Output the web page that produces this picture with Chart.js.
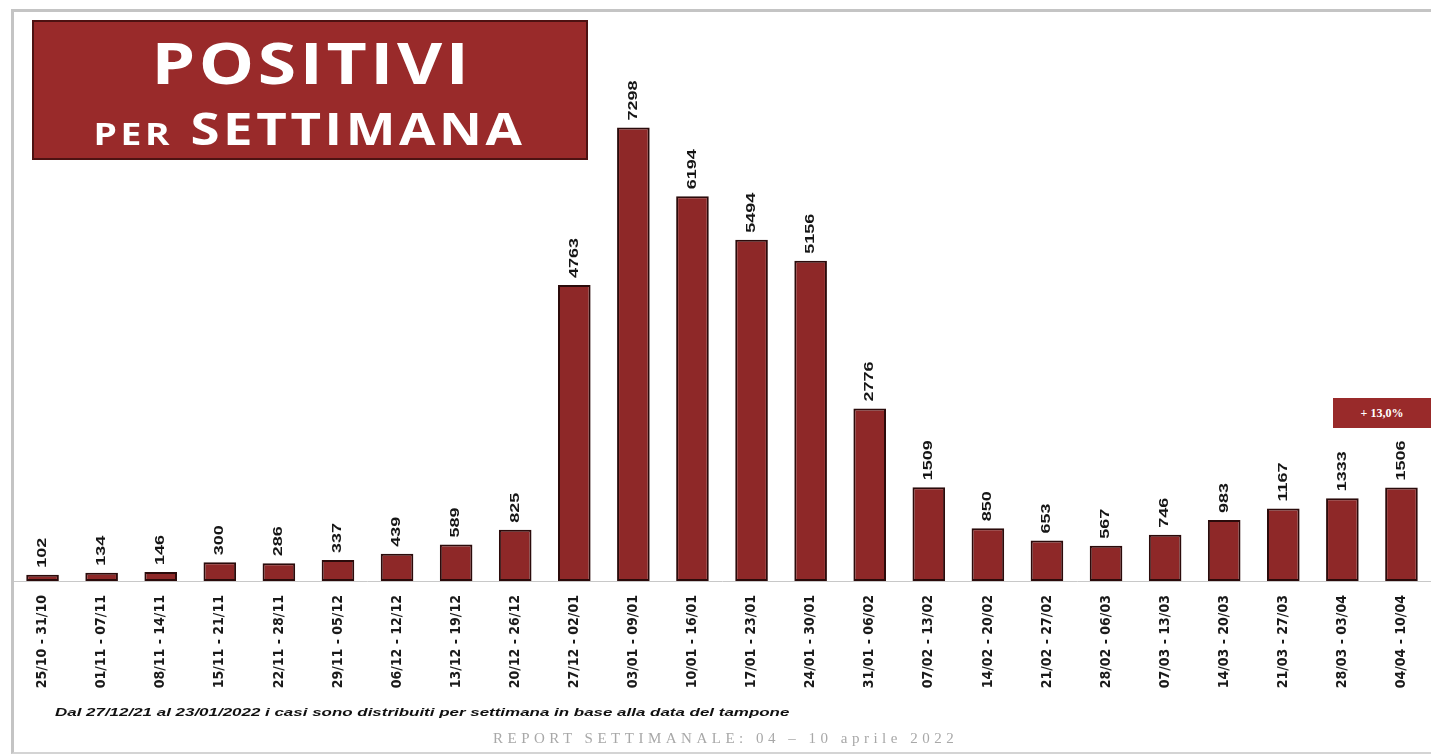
<!DOCTYPE html>
<html>
<head>
<meta charset="utf-8">
<script src="https://cdn.jsdelivr.net/npm/chart.js@4"></script>
<style>
    html, body { margin: 0; padding: 0; background: #fff; overflow: hidden; }
    #wrap { position: absolute; left: 0; top: 0; width: 1431px; height: 756px; overflow: hidden; }
    #frame { position: absolute; left: 11px; top: 9px; width: 1440px; height: 740px; border: 3px solid #c4c4c4; border-bottom: 2px solid #d4d4d4; }
    #titleBox {
        position: absolute; left: 32px; top: 20px; width: 552px; height: 136px;
        background: #992a2a; border: 2px solid #4d1212; color: #fff;
        font-family: 'Open Sans', sans-serif; font-weight: 700; text-align: center;
    }
    #titleBox div { position: absolute; left: 0; right: 0; transform: scaleX(1.2); transform-origin: 278px 0; white-space: nowrap; }
    #titleBox .l1 { top: 8px; font-size: 58px; line-height: 64px; letter-spacing: 3px; left: 6px; }
    #titleBox .l2 { top: 81px; font-size: 44px; line-height: 50px; letter-spacing: 3px; }
    #titleBox .l2 small { font-size: 31px; }
    #badge {
        position: absolute; left: 1333px; top: 398px; width: 98px; height: 30px;
        background: #992a2a; color: #fff; font: 700 12px 'Liberation Serif', serif;
        line-height: 30px; text-align: center;
    }
    #note {
        position: absolute; left: 55px; top: 706px; font: italic 700 11px 'Liberation Sans', sans-serif;
        color: #111; transform: scaleX(1.54); transform-origin: left center; white-space: nowrap;
    }
    #report {
        position: absolute; left: 493px; top: 730px; font: 15px 'Liberation Serif', serif;
        color: #a8a8a8; letter-spacing: 4.5px; white-space: nowrap;
    }
</style>
</head>
<body>
<div id="wrap">
    <canvas id="chart"></canvas>
    <div id="frame"></div>
    <div id="titleBox">
        <div class="l1">POSITIVI</div>
        <div class="l2"><small>PER</small> SETTIMANA</div>
    </div>
    <div id="badge">+ 13,0%</div>
    <div id="note">Dal 27/12/21 al 23/01/2022 i casi sono distribuiti per settimana in base alla data del tampone</div>
    <div id="report">REPORT SETTIMANALE: 04 – 10 aprile 2022</div>
</div>
<script>
// Weekly ranges (x axis)
const weeks = [
    '25/10 - 31/10', '01/11 - 07/11', '08/11 - 14/11', '15/11 - 21/11', '22/11 - 28/11',
    '29/11 - 05/12', '06/12 - 12/12', '13/12 - 19/12', '20/12 - 26/12', '27/12 - 02/01',
    '03/01 - 09/01', '10/01 - 16/01', '17/01 - 23/01', '24/01 - 30/01', '31/01 - 06/02',
    '07/02 - 13/02', '14/02 - 20/02', '21/02 - 27/02', '28/02 - 06/03', '07/03 - 13/03',
    '14/03 - 20/03', '21/03 - 27/03', '28/03 - 03/04', '04/04 - 10/04'
];

// Positive cases per week
const positivi = [
    102, 134, 146, 300, 286, 337, 439, 589, 825, 4763,
    7298, 6194, 5494, 5156, 2776, 1509, 850, 653, 567, 746,
    983, 1167, 1333, 1506
];

const yMax = 8000;

// Draws the rotated value above each bar
const valueLabels = {
    id: 'valueLabels',
    afterDatasetsDraw(chart) {
        const ctx = chart.ctx;
        const meta = chart.getDatasetMeta(0);
        ctx.save();
        ctx.fillStyle = '#151515';
        ctx.font = '700 12px "Liberation Sans", sans-serif';
        ctx.textAlign = 'left';
        ctx.textBaseline = 'middle';
        meta.data.forEach((bar, i) => {
            ctx.save();
            ctx.translate(bar.x, bar.y - 7);
            ctx.rotate(-Math.PI / 2);
            ctx.scale(1.5, 1);
            ctx.fillText(String(positivi[i]), 0, 0);
            ctx.restore();
        });
        ctx.restore();
    }
};

const ctx = document.getElementById('chart').getContext('2d');
new Chart(ctx, {
    type: 'bar',
    data: {
        labels: weeks,
        datasets: [{
            label: 'Positivi',
            data: positivi,
            backgroundColor: '#8e2828',
            borderColor: '#2b0b0b',
            borderWidth: 2,
            borderSkipped: false,
            barPercentage: 0.6,
            categoryPercentage: 0.92
        }]
    },
    options: {
        responsive: true,
        maintainAspectRatio: false,
        animation: false,
        layout: { padding: { left: 13, right: 0, top: 84, bottom: 0 } },
        plugins: {
            legend: { display: false },
            tooltip: { enabled: false }
        },
        scales: {
            x: {
                grid: { display: false },
                border: { display: true, color: '#c8c8c8', width: 1 },
                ticks: {
                    autoSkip: false,
                    maxRotation: 90,
                    minRotation: 90,
                    padding: 6,
                    color: '#1a1a1a',
                    font: { family: '"Liberation Sans Narrow", "DejaVu Sans Condensed", sans-serif', size: 14, weight: 'bold' }
                },
                afterFit(scale) { scale.height = 175; }
            },
            y: {
                display: false,
                min: 0,
                max: yMax
            }
        }
    },
    plugins: [valueLabels]
});
</script>
</body>
</html>
